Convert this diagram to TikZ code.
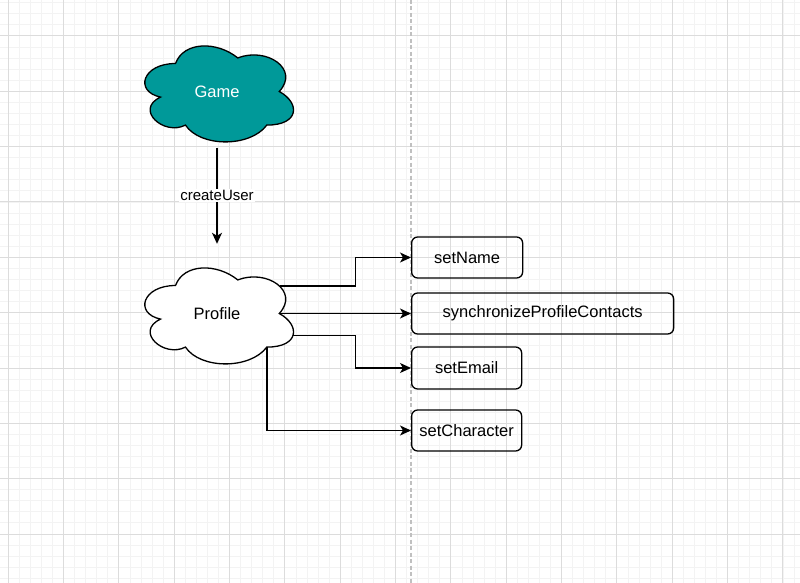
\documentclass[tikz,border=0pt]{standalone}
\usepackage{fontspec}
\setmainfont{Liberation Sans}
\usetikzlibrary{arrows.meta,calc}

\definecolor{gamefill}{RGB}{0,153,153}
\definecolor{minorgrid}{RGB}{243,243,243}
\definecolor{majorgrid}{RGB}{220,220,220}
\definecolor{guide}{RGB}{192,192,192}

\tikzset{
  cloudline/.style={draw=black, line width=1.3pt},
  cloudtext/.style={inner sep=0pt, font=\fontsize{16.5}{19}\selectfont},
  methodbox/.style={draw, line width=1.3pt, rounded corners=6pt, anchor=west,
    inner sep=0pt, minimum height=41pt, font=\fontsize{16.5}{19}\selectfont},
  link/.style={line width=1.4pt, -{Stealth[length=11pt,width=10pt,inset=3pt]}},
  edgelabel/.style={fill=white, inner sep=1.5pt, font=\fontsize{15}{18}\selectfont}
}

\newcommand{\cloudat}[3]{%
  \draw[cloudline, fill=#1, shift={(#2,#3)}, x=166pt, y=-112pt]
    (0.25,0.25) .. controls (0.05,0.25) and (0,0.5) .. (0.16,0.55)
    .. controls (0,0.66) and (0.18,0.9) .. (0.31,0.8)
    .. controls (0.4,1) and (0.7,1) .. (0.8,0.8)
    .. controls (1,0.8) and (1,0.6) .. (0.875,0.5)
    .. controls (1,0.3) and (0.8,0.1) .. (0.625,0.2)
    .. controls (0.5,0.05) and (0.3,0.05) .. (0.25,0.25) -- cycle;}

\begin{document}
\begin{tikzpicture}[x=1pt, y=-1pt]
\useasboundingbox[fill=white] (0,0) rectangle (800,583);

\foreach \k in {-1,...,71}
  \draw[minorgrid, line width=1pt] ({8.3+11.067*\k},0) -- ({8.3+11.067*\k},583);
\foreach \k in {-3,...,49}
  \draw[minorgrid, line width=1pt] (0,{36+11.067*\k}) -- (800,{36+11.067*\k});
\foreach \k in {0,...,14}
  \draw[majorgrid, line width=1pt] ({8.3+55.333*\k},0) -- ({8.3+55.333*\k},583);
\foreach \k in {0,...,9}
  \draw[majorgrid, line width=1pt] (0,{36+55.333*\k}) -- (800,{36+55.333*\k});

\draw[guide, line width=1.5pt, dash pattern=on 4pt off 2.5pt] (411,0) -- (411,583);

\cloudat{gamefill}{134}{35.5}
\begin{scope}[shift={(134,35.5)}, x=166pt, y=-112pt]
  \node[cloudtext, text=white, minimum width=166pt, minimum height=112pt] (game) at (0.5,0.5) {Game};
  \coordinate (game-s) at (0.5,1.0);
\end{scope}

\cloudat{white}{134}{257.5}
\begin{scope}[shift={(134,257.5)}, x=166pt, y=-112pt]
  \node[cloudtext, minimum width=166pt, minimum height=112pt] (profile) at (0.5,0.5) {Profile};
  \coordinate (profile-ne) at (0.878,0.2545);
  \coordinate (profile-e) at (0.875,0.5);
  \coordinate (profile-se) at (0.957,0.698);
  \coordinate (profile-s) at (0.8,0.8);
\end{scope}

\coordinate (profile-top) at ($(profile.north)+(0,-13.5)$);

\node[methodbox, minimum width=111pt] (setname) at (411,257.5) {setName};
\node[methodbox, minimum width=262pt] (sync) at (411,313.5) {synchronizeProfileContacts};
\node[methodbox, minimum width=110pt, minimum height=42pt] (setemail) at (411,368) {setEmail};
\node[methodbox, minimum width=110pt] (setchar) at (411,430.5) {setCharacter};

\coordinate (fork) at ($(profile.east)!0.5!(sync.west)$);

\draw[link] (game-s) -- node[edgelabel] {createUser} (profile-top);
\draw[link] (profile-ne) -| (fork |- setname.west) -- (setname.west);
\draw[link] (profile-e |- sync.west) -- (sync.west);
\draw[link] (profile-se) -| (fork |- setemail.west) -- (setemail.west);
\draw[link] (profile-s) |- (setchar.west);
\end{tikzpicture}
\end{document}
